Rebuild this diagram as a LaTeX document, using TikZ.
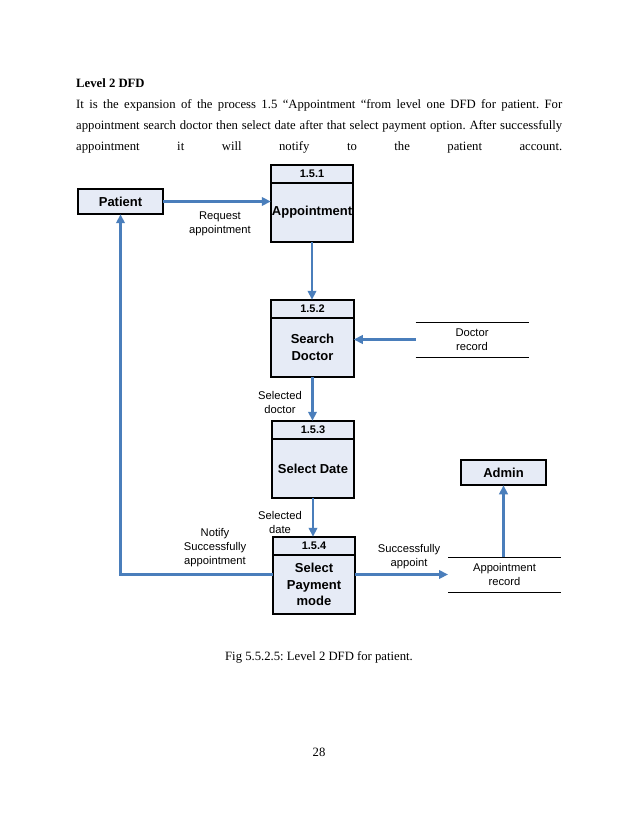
\documentclass[tikz,border=0pt]{standalone}
\usepackage{fontspec}
\setmainfont{Liberation Serif}
\newfontfamily\arial{Liberation Sans}
\usetikzlibrary{arrows.meta}
\definecolor{boxfill}{HTML}{E6EBF6}
\definecolor{flowc}{HTML}{4A7EBB}
\frenchspacing
\begin{document}
\begin{tikzpicture}[x=1pt,y=-1pt,
  bodytext/.style={anchor=base west, inner sep=0, font=\fontsize{12.7}{15}\selectfont},
  hdr/.style={draw, line width=1.6pt, fill=boxfill, outer sep=0, minimum width=82.5pt, minimum height=18pt, inner sep=0, anchor=south, font=\arial\bfseries\fontsize{11}{12}\selectfont},
  procbody/.style={draw, line width=1.6pt, fill=boxfill, outer sep=0, minimum width=82.5pt, minimum height=59.5pt, inner sep=0, align=center, font=\arial\bfseries\fontsize{13}{16.5}\selectfont},
  ext/.style={draw, line width=1.6pt, fill=boxfill, minimum width=85.5pt, minimum height=25.5pt, inner sep=0, outer sep=0, font=\arial\bfseries\fontsize{13}{15}\selectfont},
  store/.style={minimum width=113pt, minimum height=35pt, inner sep=0, outer sep=0, align=center, font=\arial\fontsize{11.2}{14}\selectfont},
  lbl/.style={inner sep=0, align=center, font=\arial\fontsize{11.2}{14}\selectfont},
  flowarrow/.style={draw=flowc, line width=2.2pt, -{Triangle[length=9pt,width=8.5pt]}}
]
\useasboundingbox (0,0) rectangle (638,826);
% text
\node[bodytext, font=\fontsize{12.7}{15}\selectfont\bfseries] (title) at (76,87.5) {Level 2 DFD};
\node[bodytext] (l1) at (76,108.5) {\makebox[486pt][s]{It is the expansion of the process 1.5 “Appointment “from level one DFD for patient. For}};
\node[bodytext] (l2) at (76,129.5) {\makebox[486pt][s]{appointment search doctor then select date after that select payment option. After successfully}};
\node[bodytext] (l3) at (76,150.5) {\makebox[486pt][s]{appointment it will notify to the patient account.}};
% processes
\node[procbody] (p1b) at (312,212.5) {Appointment};
\node[hdr] (p1h) at (p1b.north) {1.5.1};
\node[procbody] (p2b) at (312.5,347.5) {Search\\Doctor};
\node[hdr] (p2h) at (p2b.north) {1.5.2};
\node[procbody] (p3b) at (313,468.5) {Select Date};
\node[hdr] (p3h) at (p3b.north) {1.5.3};
\node[procbody] (p4b) at (314,584.5) {Select\\Payment\\mode};
\node[hdr] (p4h) at (p4b.north) {1.5.4};
% entities
\node[ext] (pat) at (120.5,201.5) {Patient};
\node[ext] (adm) at (503.5,472.5) {Admin};
% stores
\node[store] (dr) at (472,339.5) {Doctor\\record};
\draw[line width=0.8pt] (dr.north west) -- (dr.north east) (dr.south west) -- (dr.south east);
\node[store] (ar) at (504.5,574.5) {Appointment\\record};
\draw[line width=0.8pt] (ar.north west) -- (ar.north east) (ar.south west) -- (ar.south east);
% flows
\draw[flowarrow] (pat.east) -- (pat.east -| p1b.west);
\draw[flowarrow] (p1b.south) -- (p1b.south |- p2h.north);
\draw[flowarrow] (dr.west) -- (dr.west -| p2b.east);
\draw[flowarrow] (p2b.south) -- (p2b.south |- p3h.north);
\draw[flowarrow] (p3b.south) -- (p3b.south |- p4h.north);
\draw[flowarrow] (ar.west -| p4b.east) -- (ar.west);
\draw[flowarrow] (ar.north -| adm.south) -- (adm.south);
\draw[flowarrow] (ar.west -| p4b.west) -- (ar.west -| pat.south) -- (pat.south);
% labels
\node[lbl] (lreq) at (220,224) {Request\\appointment};
\node[lbl] (lsd) at (280,402) {Selected\\doctor};
\node[lbl] (lsdt) at (280,522) {Selected\\date};
\node[lbl] (lnot) at (215,548) {Notify\\Successfully\\appointment};
\node[lbl] (lsa) at (409,557) {Successfully\\appoint};
% caption
\node[anchor=base, inner sep=0, font=\fontsize{12.7}{15}\selectfont] (cap) at (319,660) {Fig 5.5.2.5: Level 2 DFD for patient.};
\node[anchor=base, inner sep=0, font=\fontsize{12.7}{15}\selectfont] (pg) at (319,756.5) {28};
\end{tikzpicture}
\end{document}
